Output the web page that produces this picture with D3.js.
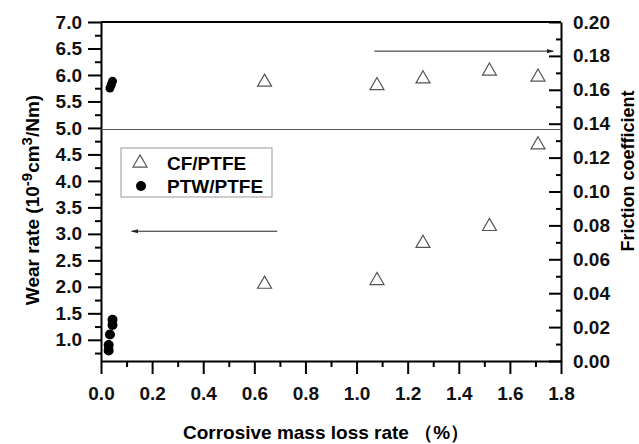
<!DOCTYPE html>
<html>
<head>
<meta charset="utf-8">
<script src="https://cdn.jsdelivr.net/npm/d3@7"></script>
<style>
  body { margin: 0; background: #fff; }
  text { font-family: "Liberation Sans", Arial, sans-serif; font-weight: bold; }
</style>
</head>
<body>
<div class="container"></div>
<script>
const w = 639;
const h = 444;
const margin = { top: 22, bottom: 83, left: 101, right: 78 };
const width = w - margin.left - margin.right;
const height = h - margin.top - margin.bottom;

// CF/PTFE: corrosive mass loss rate vs wear rate / friction
const cfLoss = [0.64, 1.08, 1.26, 1.52, 1.71];
const cfWear = [2.05, 2.12, 2.82, 3.14, 4.68];
const cfFriction = [0.1645, 0.1625, 0.1665, 0.171, 0.1675];

// PTW/PTFE
const ptwLossWear = [0.045, 0.045, 0.035, 0.03, 0.03];
const ptwWear = [1.38, 1.28, 1.1, 0.9, 0.8];
const ptwLossFriction = [0.045, 0.04, 0.035];
const ptwFriction = [0.165, 0.163, 0.161];

const xTicks = [0, 0.2, 0.4, 0.6, 0.8, 1.0, 1.2, 1.4, 1.6, 1.8];
const yTicks = [1.0, 1.5, 2.0, 2.5, 3.0, 3.5, 4.0, 4.5, 5.0, 5.5, 6.0, 6.5, 7.0];
const y2Ticks = [0, 0.02, 0.04, 0.06, 0.08, 0.10, 0.12, 0.14, 0.16, 0.18, 0.20];
const refLine = 4.97;
// arrows: [x0, x1, y] in data units of loss / wear rate axis
const arrowLeft = [0.69, 0.12, 3.05];
const arrowRight = [1.07, 1.77, 6.45];

const svg = d3.select('.container').append('svg')
    .attr('width', w)
    .attr('height', h);

svg.append('defs').append('marker')
    .attr('id', 'head')
    .attr('viewBox', '0 0 10 10')
    .attr('refX', 9).attr('refY', 5)
    .attr('markerWidth', 9).attr('markerHeight', 7)
    .attr('markerUnits', 'userSpaceOnUse')
    .attr('orient', 'auto')
  .append('path')
    .attr('d', 'M0,2 L10,5 L0,8 Z')
    .attr('fill', '#222');

const chart = svg.append('g')
    .attr('transform', `translate(${margin.left}, ${margin.top})`);

const x = d3.scaleLinear().domain([0, 1.8]).range([0, width]);
const y = d3.scaleLinear().domain([0.6, 7.0]).range([height, 0]);
const y2 = d3.scaleLinear().domain([0, 0.2]).range([height, 0]);

// minor ticks
const xMinor = d3.range(0.1, 1.8, 0.2);
const yMinor = d3.range(0.75, 7.0, 0.5);
const y2Minor = d3.range(0.01, 0.2, 0.02);

function styleAxis(g) {
  g.select('.domain').attr('stroke-width', 2);
  g.selectAll('.tick line').attr('stroke-width', 2);
  g.selectAll('.tick text').style('font-size', '19px').attr('fill', '#111');
}

chart.append('g')
    .attr('transform', `translate(0, ${height})`)
    .call(d3.axisBottom(x).tickValues(xMinor).tickSize(6).tickFormat(''))
    .call(g => g.select('.domain').remove())
    .call(g => g.selectAll('line').attr('stroke-width', 2));
chart.append('g')
    .attr('transform', `translate(0, ${height})`)
    .call(d3.axisBottom(x).tickValues(xTicks).tickSize(13).tickSizeOuter(0).tickPadding(13).tickFormat(d3.format('.1f')))
    .call(styleAxis);

chart.append('g')
    .call(d3.axisLeft(y).tickValues(yMinor).tickSize(6).tickFormat(''))
    .call(g => g.select('.domain').remove())
    .call(g => g.selectAll('line').attr('stroke-width', 2));
chart.append('g')
    .call(d3.axisLeft(y).tickValues(yTicks).tickSize(13).tickSizeOuter(0).tickPadding(6).tickFormat(d3.format('.1f')))
    .call(styleAxis);

chart.append('g')
    .attr('transform', `translate(${width}, 0)`)
    .call(d3.axisRight(y2).tickValues(y2Minor).tickSize(-5).tickFormat(''))
    .call(g => g.select('.domain').remove())
    .call(g => g.selectAll('line').attr('stroke-width', 2));
chart.append('g')
    .attr('transform', `translate(${width}, 0)`)
    .call(d3.axisRight(y2).tickValues(y2Ticks).tickSize(-12).tickSizeOuter(0).tickPadding(12).tickFormat(d3.format('.2f')))
    .call(styleAxis);

// top frame
chart.append('line')
    .attr('x1', 0).attr('x2', width)
    .attr('y1', 0).attr('y2', 0)
    .attr('stroke', '#000').attr('stroke-width', 2);

// reference line
chart.append('line')
    .attr('x1', 0).attr('x2', width)
    .attr('y1', y(refLine)).attr('y2', y(refLine))
    .attr('stroke', '#555').attr('stroke-width', 1);

// arrows
[arrowLeft, arrowRight].forEach(a => {
  chart.append('line')
      .attr('x1', x(a[0])).attr('x2', x(a[1]))
      .attr('y1', y(a[2])).attr('y2', y(a[2]))
      .attr('stroke', '#222').attr('stroke-width', 1)
      .attr('marker-end', 'url(#head)');
});

const tri = d3.symbol().type(d3.symbolTriangle).size(85);

const cfWearData = cfLoss.map((v, i) => ({ x: v, y: cfWear[i] }));
const cfFricData = cfLoss.map((v, i) => ({ x: v, y: cfFriction[i] }));

chart.append('g').selectAll('path')
    .data(cfWearData)
    .enter().append('path')
      .attr('d', tri)
      .attr('transform', d => `translate(${x(d.x)}, ${y(d.y)})`)
      .attr('fill', 'none')
      .attr('stroke', '#555')
      .attr('stroke-width', 1.2);

chart.append('g').selectAll('path')
    .data(cfFricData)
    .enter().append('path')
      .attr('d', tri)
      .attr('transform', d => `translate(${x(d.x)}, ${y2(d.y)})`)
      .attr('fill', 'none')
      .attr('stroke', '#555')
      .attr('stroke-width', 1.2);

chart.append('g').selectAll('circle')
    .data(ptwLossWear.map((v, i) => ({ x: v, y: ptwWear[i] })))
    .enter().append('circle')
      .attr('cx', d => x(d.x))
      .attr('cy', d => y(d.y))
      .attr('r', 5)
      .attr('fill', '#000');

chart.append('g').selectAll('circle')
    .data(ptwLossFriction.map((v, i) => ({ x: v, y: ptwFriction[i] })))
    .enter().append('circle')
      .attr('cx', d => x(d.x))
      .attr('cy', d => y2(d.y))
      .attr('r', 4.5)
      .attr('fill', '#000');

// legend
const legend = chart.append('g')
    .attr('transform', `translate(${121 - margin.left}, ${148 - margin.top})`);
legend.append('rect')
    .attr('width', 151).attr('height', 49)
    .attr('fill', '#fff')
    .attr('stroke', '#999').attr('stroke-width', 1);
legend.append('path')
    .attr('d', tri)
    .attr('transform', 'translate(19, 15)')
    .attr('fill', 'none').attr('stroke', '#555').attr('stroke-width', 1.2);
legend.append('circle')
    .attr('cx', 20).attr('cy', 38).attr('r', 5).attr('fill', '#000');
legend.append('text')
    .attr('x', 46).attr('y', 22)
    .style('font-size', '19px')
    .text('CF/PTFE');
legend.append('text')
    .attr('x', 46).attr('y', 45)
    .style('font-size', '19px')
    .text('PTW/PTFE');

// axis titles
const yTitle = svg.append('text')
    .attr('transform', `translate(39, ${200}) rotate(-90)`)
    .attr('text-anchor', 'middle')
    .style('font-size', '19px');
yTitle.append('tspan').text('Wear rate (10');
yTitle.append('tspan').attr('dy', -7).style('font-size', '15px').text('-9');
yTitle.append('tspan').attr('dy', 7).text('cm');
yTitle.append('tspan').attr('dy', -7).style('font-size', '15px').text('3');
yTitle.append('tspan').attr('dy', 7).text('/Nm)');

svg.append('text')
    .attr('transform', `translate(634, ${171}) rotate(-90)`)
    .attr('text-anchor', 'middle')
    .style('font-size', '18px')
    .text('Friction coefficient');

svg.append('text')
    .attr('x', 326)
    .attr('y', 439)
    .attr('text-anchor', 'middle')
    .style('font-size', '19px')
    .text('Corrosive mass loss rate （%）');
</script>
</body>
</html>
